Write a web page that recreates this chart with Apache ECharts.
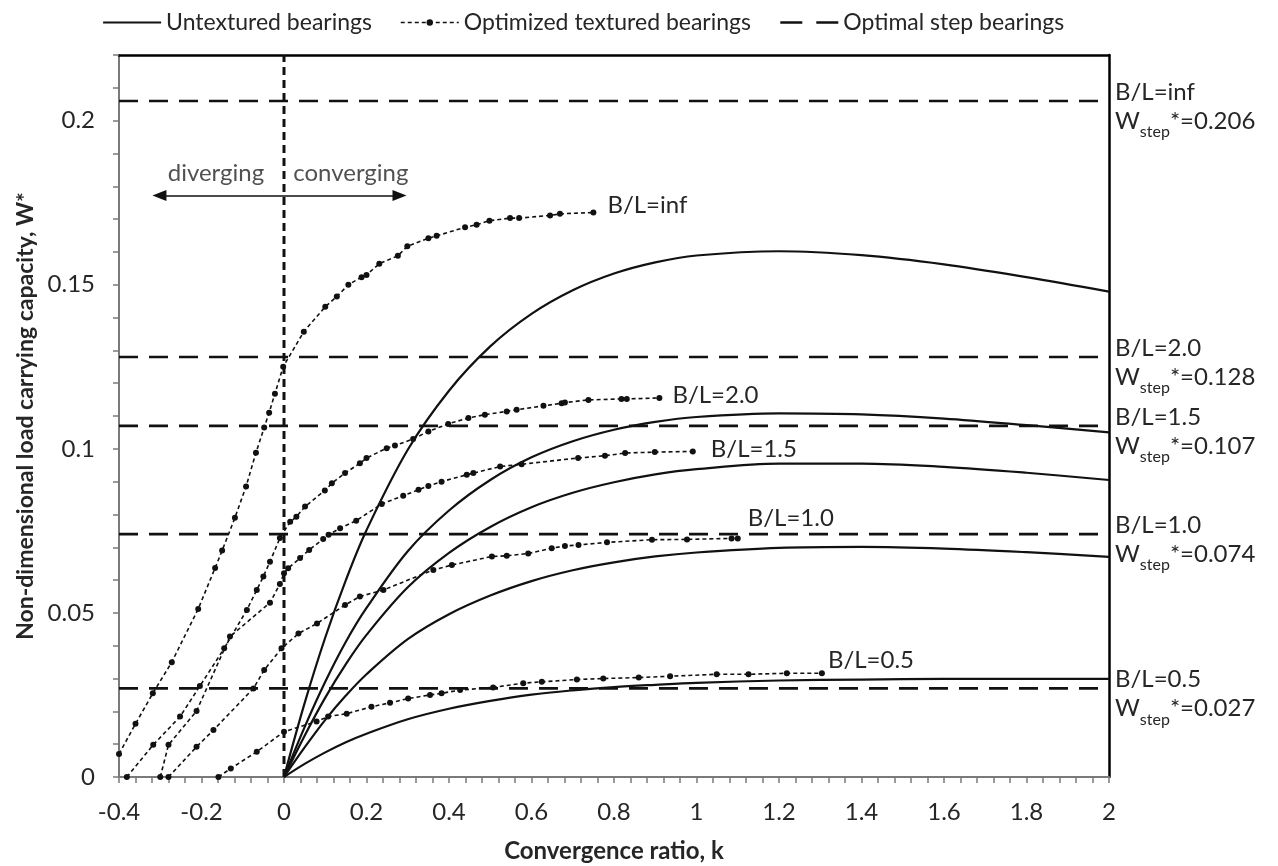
<!DOCTYPE html>
<html>
<head>
<meta charset="utf-8">
<script src="https://cdn.jsdelivr.net/npm/echarts@6/dist/echarts.min.js"></script>
<style>
  html, body { margin: 0; padding: 0; background: #fff; }
  #chart { width: 1278px; height: 866px; }
</style>
</head>
<body>
<div id="chart"></div>
<script>
// Convergence ratio k at which the untextured (plain inclined) curves are sampled
const kPlain = [0, 0.05, 0.1, 0.15, 0.2, 0.3, 0.4, 0.5, 0.6, 0.7, 0.8, 0.9, 1.0, 1.2, 1.4, 1.6, 1.8, 2.0];

// Untextured bearings, W* for each B/L
const plainInf = [0, 0.0225, 0.0425, 0.0600, 0.0752, 0.0997, 0.1177, 0.1312, 0.1411, 0.1483, 0.1534, 0.1568, 0.1589, 0.1602, 0.1590, 0.1562, 0.1523, 0.1479];
const plain20  = [0, 0.0152, 0.0290, 0.0412, 0.0515, 0.0688, 0.0812, 0.0905, 0.0974, 0.1023, 0.1058, 0.1082, 0.1097, 0.1108, 0.1105, 0.1092, 0.1072, 0.1050];
const plain15  = [0, 0.0126, 0.0242, 0.0344, 0.0433, 0.0578, 0.0683, 0.0762, 0.0822, 0.0866, 0.0898, 0.0922, 0.0938, 0.0955, 0.0955, 0.0945, 0.0927, 0.0905];
const plain10  = [0, 0.0090, 0.0174, 0.0248, 0.0313, 0.0420, 0.0496, 0.0553, 0.0597, 0.0630, 0.0654, 0.0672, 0.0684, 0.0698, 0.0701, 0.0696, 0.0685, 0.0671];
const plain05  = [0, 0.0040, 0.0075, 0.0106, 0.0132, 0.0176, 0.0208, 0.0232, 0.0251, 0.0264, 0.0274, 0.0281, 0.0287, 0.0294, 0.0297, 0.0299, 0.0299, 0.0299];

// Optimized textured bearings: [k, W*] pairs for each B/L
const texInf = [[-0.4,0.0070],[-0.36,0.0162],[-0.318,0.0255],[-0.272,0.0350],[-0.208,0.0512],[-0.167,0.0637],[-0.15,0.0690],[-0.119,0.0790],[-0.092,0.0885],[-0.068,0.0988],[-0.048,0.1065],[-0.036,0.1110],[-0.022,0.1168],[-0.002,0.1250],[0.048,0.1357],[0.1,0.1433],[0.128,0.1464],[0.156,0.1500],[0.188,0.1523],[0.2,0.1530],[0.231,0.1564],[0.276,0.1588],[0.299,0.1617],[0.35,0.1642],[0.37,0.1649],[0.439,0.1675],[0.467,0.1683],[0.498,0.1695],[0.548,0.1703],[0.57,0.1703],[0.645,0.1711],[0.669,0.1716],[0.75,0.1720]];
const tex20 = [[-0.381,0.0],[-0.317,0.0098],[-0.252,0.0184],[-0.204,0.0277],[-0.145,0.0392],[-0.09,0.0509],[-0.066,0.0570],[-0.05,0.0611],[-0.034,0.0656],[-0.01,0.0728],[0.015,0.0778],[0.03,0.0793],[0.051,0.0824],[0.099,0.0873],[0.116,0.0895],[0.148,0.0926],[0.184,0.0956],[0.2,0.0972],[0.249,0.1002],[0.269,0.1010],[0.313,0.1030],[0.35,0.1053],[0.398,0.1076],[0.447,0.1094],[0.487,0.1104],[0.54,0.1114],[0.564,0.1119],[0.629,0.1131],[0.673,0.1139],[0.681,0.1141],[0.738,0.1149],[0.818,0.1152],[0.831,0.1152],[0.91,0.1155]];
const tex15 = [[-0.3,0.0],[-0.28,0.0098],[-0.212,0.0201],[-0.131,0.0428],[-0.034,0.0531],[-0.01,0.0588],[0,0.0621],[0.01,0.0636],[0.039,0.0667],[0.061,0.0692],[0.095,0.0725],[0.108,0.0738],[0.136,0.0758],[0.175,0.0781],[0.237,0.0832],[0.289,0.0857],[0.326,0.0875],[0.35,0.0887],[0.382,0.0900],[0.443,0.0921],[0.459,0.0926],[0.524,0.0946],[0.576,0.0953],[0.713,0.0972],[0.778,0.0979],[0.827,0.0987],[0.899,0.0990],[0.991,0.0992]];
const tex10 = [[-0.28,0.0],[-0.212,0.0092],[-0.171,0.0143],[-0.074,0.0270],[-0.048,0.0326],[-0.006,0.0392],[0.035,0.0437],[0.08,0.0468],[0.148,0.0524],[0.184,0.0550],[0.241,0.0570],[0.362,0.0631],[0.407,0.0646],[0.504,0.0672],[0.54,0.0674],[0.592,0.0681],[0.649,0.0697],[0.681,0.0704],[0.714,0.0707],[0.783,0.0715],[0.892,0.0723],[0.977,0.0724],[1.085,0.0727],[1.1,0.0727]];
const tex05 = [[-0.159,0.0],[-0.129,0.0026],[-0.066,0.0077],[0.0,0.0138],[0.079,0.0169],[0.107,0.0184],[0.152,0.0193],[0.212,0.0214],[0.257,0.0226],[0.301,0.0239],[0.354,0.0250],[0.382,0.0255],[0.427,0.0265],[0.507,0.0273],[0.58,0.0286],[0.625,0.0290],[0.71,0.0297],[0.774,0.0300],[0.86,0.0303],[0.936,0.0307],[1.049,0.0313],[1.126,0.0313],[1.219,0.0316],[1.304,0.0316]];

// Optimal step bearings, W_step*
const stepW = [0.206, 0.128, 0.107, 0.074, 0.027];
const ratioLabels = ['inf', '2.0', '1.5', '1.0', '0.5'];

// Axis ranges
const kMin = -0.4, kMax = 2, kMinorStep = 0.04;
const wMin = 0, wMax = 0.22, wMinorStep = 0.01;

const FONT = 'Lato';
const INK = '#111';
const TEXT = '#262626';
const FS = 24;

const fmt = v => String(parseFloat(v.toFixed(2)));

const plainSets = [plainInf, plain20, plain15, plain10, plain05];
const texSets = [texInf, tex20, tex15, tex10, tex05];
// label placement at the end of each textured curve [dx, dy]
const texLabelOffset = [[14, -7], [13, -3], [18, -2], [10, -20], [6, -13]];

const series = [];

plainSets.forEach(vals => {
  series.push({
    type: 'line',
    name: 'Untextured bearings',
    data: kPlain.map((k, i) => [k, vals[i]]),
    symbol: 'none',
    smooth: 0.35,
    lineStyle: { color: INK, width: 2.2 },
    itemStyle: { color: INK },
    z: 3
  });
});

texSets.forEach((pts, i) => {
  series.push({
    type: 'line',
    name: 'Optimized textured bearings',
    data: pts,
    symbol: 'circle',
    symbolSize: 6,
    showAllSymbol: true,
    lineStyle: { color: INK, width: 1.6, type: [4, 3] },
    itemStyle: { color: INK },
    endLabel: {
      show: true,
      formatter: 'B/L=' + ratioLabels[i],
      color: TEXT,
      fontFamily: FONT,
      fontSize: FS,
      distance: 0,
      offset: texLabelOffset[i]
    },
    z: 4
  });
});

stepW.forEach((w, i) => {
  series.push({
    type: 'line',
    name: 'Optimal step bearings',
    data: [[kMin, w], [kMax, w]],
    symbol: 'none',
    lineStyle: { color: INK, width: 2.6, type: [19, 11] },
    itemStyle: { color: INK },
    endLabel: {
      show: true,
      distance: 6,
      offset: [0, 6],
      formatter: '{a|B/L=' + ratioLabels[i] + '}\n{w|W}{s|step}{w|*=' + w.toFixed(3) + '}',
      color: TEXT,
      fontFamily: FONT,
      fontSize: FS,
      rich: {
        a: { fontFamily: FONT, fontSize: FS, color: TEXT, lineHeight: 34 },
        w: { fontFamily: FONT, fontSize: FS, color: TEXT, lineHeight: 30, verticalAlign: 'top' },
        s: { fontFamily: FONT, fontSize: 16, color: TEXT, lineHeight: 18, padding: [15, 0, 0, 0], verticalAlign: 'top' }
      }
    },
    z: 2
  });
});

// the k = 0 divider between diverging and converging films
series.push({
  type: 'line',
  name: 'k = 0',
  data: [[0, wMin], [0, wMax]],
  symbol: 'none',
  lineStyle: { color: INK, width: 3, type: [8, 5] },
  z: 5
});

// diverging / converging annotation with its arrows
series.push({
  type: 'scatter',
  name: 'annotations',
  symbolSize: 0,
  data: [
    { value: [-0.165, 0.1841], label: { formatter: 'diverging' } },
    { value: [0.162, 0.1841], label: { formatter: 'converging' } }
  ],
  label: { show: true, position: 'inside', color: TEXT, fontFamily: FONT, fontSize: FS },
  markLine: {
    silent: true,
    animation: false,
    symbol: ['none', 'triangle'],
    symbolSize: [11, 14],
    label: { show: false },
    lineStyle: { color: INK, width: 1.6, type: 'solid' },
    data: [
      [{ coord: [0, 0.1772] }, { coord: [-0.302, 0.1772] }],
      [{ coord: [0, 0.1772] }, { coord: [0.28, 0.1772] }]
    ]
  },
  z: 5
});

const chart = echarts.init(document.getElementById('chart'), null, { renderer: 'canvas' });

const axisCommon = {
  axisLine: { show: true, onZero: false, lineStyle: { color: '#7a7a7a', width: 2 } },
  axisTick: { show: true, inside: false, length: 6, lineStyle: { color: '#7a7a7a', width: 1.5 } },
  splitLine: { show: false }
};

const hidden = 'rgba(0,0,0,0)';

chart.setOption({
  animation: false,
  backgroundColor: '#fff',
  textStyle: { fontFamily: FONT },
  grid: { left: 119, right: 169, top: 55, bottom: 89, containLabel: false, outerBoundsMode: 'none' },
  legend: {
    data: [
      { name: 'Untextured bearings', itemStyle: { color: hidden, borderColor: hidden }, lineStyle: { type: 'solid', width: 2.2, color: INK } },
      { name: 'Optimized textured bearings', itemStyle: { color: INK }, lineStyle: { type: [4, 3], width: 1.6, color: INK } },
      { name: 'Optimal step bearings', itemStyle: { color: hidden, borderColor: hidden }, lineStyle: { type: [22, 14], width: 2.6, color: INK } }
    ],
    left: 97,
    top: 6,
    itemWidth: 58,
    itemHeight: 8,
    itemGap: 28,
    textStyle: { color: TEXT, fontFamily: FONT, fontSize: 23 },
    selectedMode: false
  },
  xAxis: [
    Object.assign({
      type: 'value',
      min: kMin, max: kMax, interval: kMinorStep,
      name: 'Convergence ratio, k',
      nameLocation: 'middle',
      nameGap: 62,
      nameTextStyle: { color: TEXT, fontFamily: FONT, fontSize: 24, fontWeight: 'bold' },
      axisLabel: {
        color: TEXT, fontFamily: FONT, fontSize: FS, margin: 23,
        formatter: v => (Math.round(v * 100) % 20 === 0 ? fmt(v) : '')
      }
    }, axisCommon),
    {
      type: 'value', position: 'top', min: kMin, max: kMax,
      axisLine: { show: true, onZero: false, lineStyle: { color: '#000', width: 2.5 } },
      axisTick: { show: false }, axisLabel: { show: false }, splitLine: { show: false }
    }
  ],
  yAxis: [
    Object.assign({
      type: 'value',
      min: wMin, max: wMax, interval: wMinorStep,
      name: 'Non-dimensional load carrying capacity, W*',
      nameLocation: 'middle',
      nameGap: 80,
      nameTextStyle: { color: TEXT, fontFamily: FONT, fontSize: 23, fontWeight: 'bold' },
      axisLabel: {
        color: TEXT, fontFamily: FONT, fontSize: FS, margin: 24,
        formatter: v => (Math.round(v * 100) % 5 === 0 && v < 0.205 ? fmt(v) : '')
      }
    }, axisCommon),
    {
      type: 'value', position: 'right', min: wMin, max: wMax,
      axisLine: { show: true, onZero: false, lineStyle: { color: '#000', width: 2.5 } },
      axisTick: { show: false }, axisLabel: { show: false }, splitLine: { show: false }
    }
  ],
  series: series
});
</script>
</body>
</html>
